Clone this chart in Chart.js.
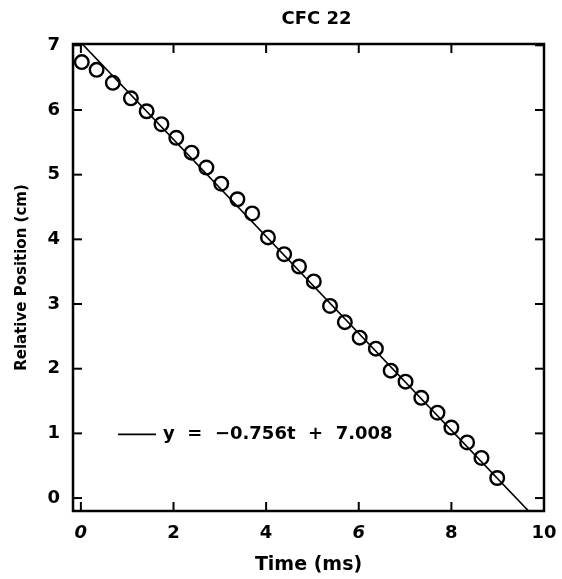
<!DOCTYPE html>
<html>
<head>
<meta charset="utf-8">
<script src="https://cdn.jsdelivr.net/npm/chart.js@4.4.1/dist/chart.umd.min.js"></script>
<style>
  html, body { margin: 0; padding: 0; background: #fff; }
  #wrap { width: 562px; height: 579px; }
</style>
</head>
<body>
<div id="wrap"><canvas id="chart" width="562" height="579"></canvas></div>
<script>
// values
const timeMs = [0.02, 0.34, 0.69, 1.08, 1.42, 1.74, 2.06, 2.39, 2.71, 3.03, 3.38, 3.70, 4.04, 4.39,
                4.71, 5.03, 5.38, 5.70, 6.02, 6.37, 6.69, 7.01, 7.35, 7.70, 8.00, 8.34, 8.65, 8.99];
const positionCm = [6.74, 6.62, 6.42, 6.18, 5.98, 5.78, 5.57, 5.34, 5.11, 4.86, 4.62, 4.40, 4.03, 3.77,
                    3.58, 3.35, 2.97, 2.72, 2.48, 2.31, 1.97, 1.80, 1.55, 1.32, 1.09, 0.86, 0.62, 0.31];
// fitted line as drawn (end points, clipped by the plot frame)
const fitT = [-0.17, 10];
const fitY = [7.17, -0.45];
const xTicks = [0, 2, 4, 6, 8, 10];
const yTicks = [0, 1, 2, 3, 4, 5, 6, 7];
const legendText = 'y  =  \u22120.756t  +  7.008';
const titleText = 'CFC 22';

const FONT = "'DejaVu Sans', sans-serif";

const points = timeMs.map((t, i) => ({ x: t, y: positionCm[i] }));
const fitLine = fitT.map((t, i) => ({ x: t, y: fitY[i] }));

// frame, inward ticks on all four sides, title and legend
const frameTicks = {
    id: 'frameTicks',
    afterDraw(chart) {
        const { ctx, chartArea: a, scales: { x, y } } = chart;
        ctx.save();
        ctx.strokeStyle = '#000';
        ctx.lineCap = 'butt';
        ctx.lineWidth = 2;
        const seg = (x1, y1, x2, y2) => {
            ctx.beginPath(); ctx.moveTo(x1, y1); ctx.lineTo(x2, y2); ctx.stroke();
        };
        xTicks.forEach(v => {
            const px = x.getPixelForValue(v);
            seg(px, a.bottom, px, a.bottom - 9);
            seg(px, a.top, px, a.top + 9);
        });
        yTicks.forEach(v => {
            const py = y.getPixelForValue(v);
            seg(a.left, py, a.left + 9, py);
            seg(a.right, py, a.right - 9, py);
        });
        ctx.lineWidth = 2.5;
        ctx.strokeRect(a.left, a.top, a.right - a.left, a.bottom - a.top);

        // title
        ctx.fillStyle = '#000';
        ctx.font = 'bold 18px ' + FONT;
        ctx.textAlign = 'center';
        ctx.textBaseline = 'middle';
        ctx.fillText(titleText, (a.left + a.right) / 2 + 8, 19);

        // legend inside the plot
        const ly = y.getPixelForValue(1);
        ctx.lineWidth = 1.6;
        seg(118, ly + 1, 156, ly + 1);
        ctx.font = 'bold 18px ' + FONT;
        ctx.textAlign = 'left';
        ctx.fillText(legendText, 163, ly + 1);
        ctx.restore();
    }
};

new Chart(document.getElementById('chart'), {
    type: 'scatter',
    data: {
        datasets: [
            {
                label: 'data',
                data: points,
                pointStyle: 'circle',
                pointRadius: 6.8,
                pointBorderWidth: 2.4,
                pointBorderColor: '#000',
                pointBackgroundColor: 'rgba(255,255,255,0)',
                order: 1
            },
            {
                label: 'fit',
                type: 'line',
                data: fitLine,
                borderColor: '#000',
                borderWidth: 1.6,
                pointRadius: 0,
                fill: false,
                order: 2
            }
        ]
    },
    options: {
        responsive: false,
        animation: false,
        devicePixelRatio: 1,
        layout: { padding: { left: 0, right: 18, top: 44, bottom: 0 } },
        plugins: {
            legend: { display: false },
            title: { display: false },
            tooltip: { enabled: false }
        },
        scales: {
            x: {
                type: 'linear',
                min: -0.17,
                max: 10,
                afterBuildTicks: s => { s.ticks = xTicks.map(v => ({ value: v })); },
                afterFit: s => { s.height = 68; s.paddingLeft = 0; s.paddingRight = 0; },
                grid: { display: false, drawTicks: false },
                border: { display: false },
                ticks: {
                    color: '#000',
                    padding: 12,
                    maxRotation: 0,
                    font: c => ({
                        family: FONT,
                        size: 18,
                        weight: 'bold',
                        style: (c.tick && (c.tick.value === 0 || c.tick.value === 6)) ? 'italic' : 'normal'
                    })
                },
                title: {
                    display: true,
                    text: 'Time (ms)',
                    color: '#000',
                    font: { family: FONT, size: 19, weight: 'bold' },
                    padding: { top: 0, bottom: 3 }
                }
            },
            y: {
                type: 'linear',
                min: -0.2,
                max: 7.02,
                afterBuildTicks: s => { s.ticks = yTicks.map(v => ({ value: v })); },
                afterFit: s => { s.width = 73; s.paddingTop = 0; s.paddingBottom = 0; },
                grid: { display: false, drawTicks: false },
                border: { display: false },
                ticks: {
                    color: '#000',
                    padding: 13,
                    font: { family: FONT, size: 18, weight: 'bold' }
                },
                title: {
                    display: true,
                    text: 'Relative Position (cm)',
                    color: '#000',
                    font: { family: FONT, size: 15, weight: 'bold' },
                    padding: { top: 13, bottom: 0 }
                }
            }
        }
    },
    plugins: [frameTicks]
});
</script>
</body>
</html>
